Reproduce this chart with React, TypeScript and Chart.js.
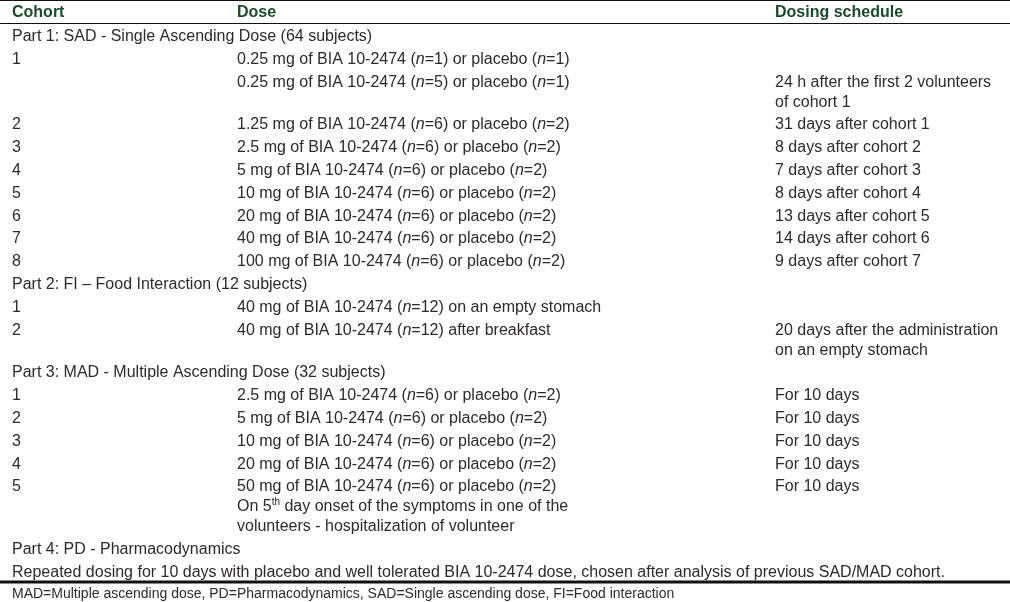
import React, { useEffect, useRef } from "react";
import { Chart, registerables } from "chart.js";

Chart.register(...registerables);

// ---- Table content (data) ----
const headers = ["Cohort", "Dose", "Dosing schedule"];

const cohortCol = [
  "Part 1: SAD - Single Ascending Dose (64 subjects)",
  "1",
  "",
  "2",
  "3",
  "4",
  "5",
  "6",
  "7",
  "8",
  "Part 2: FI \u2013 Food Interaction (12 subjects)",
  "1",
  "2",
  "Part 3: MAD - Multiple Ascending Dose (32 subjects)",
  "1",
  "2",
  "3",
  "4",
  "5",
  "Part 4: PD - Pharmacodynamics",
  "Repeated dosing for 10 days with placebo and well tolerated BIA 10-2474 dose, chosen after analysis of previous SAD/MAD cohort.",
];

const doseCol = [
  "",
  "0.25 mg of BIA 10-2474 (_n_=1) or placebo (_n_=1)",
  "0.25 mg of BIA 10-2474 (_n_=5) or placebo (_n_=1)",
  "1.25 mg of BIA 10-2474 (_n_=6) or placebo (_n_=2)",
  "2.5 mg of BIA 10-2474 (_n_=6) or placebo (_n_=2)",
  "5 mg of BIA 10-2474 (_n_=6) or placebo (_n_=2)",
  "10 mg of BIA 10-2474 (_n_=6) or placebo (_n_=2)",
  "20 mg of BIA 10-2474 (_n_=6) or placebo (_n_=2)",
  "40 mg of BIA 10-2474 (_n_=6) or placebo (_n_=2)",
  "100 mg of BIA 10-2474 (_n_=6) or placebo (_n_=2)",
  "",
  "40 mg of BIA 10-2474 (_n_=12) on an empty stomach",
  "40 mg of BIA 10-2474 (_n_=12) after breakfast",
  "",
  "2.5 mg of BIA 10-2474 (_n_=6) or placebo (_n_=2)",
  "5 mg of BIA 10-2474 (_n_=6) or placebo (_n_=2)",
  "10 mg of BIA 10-2474 (_n_=6) or placebo (_n_=2)",
  "20 mg of BIA 10-2474 (_n_=6) or placebo (_n_=2)",
  "50 mg of BIA 10-2474 (_n_=6) or placebo (_n_=2)\nOn 5^th^ day onset of the symptoms in one of the\nvolunteers - hospitalization of volunteer",
  "",
  "",
];

const scheduleCol = [
  "",
  "",
  "24 h after the first 2 volunteers\nof cohort 1",
  "31 days after cohort 1",
  "8 days after cohort 2",
  "7 days after cohort 3",
  "8 days after cohort 4",
  "13 days after cohort 5",
  "14 days after cohort 6",
  "9 days after cohort 7",
  "",
  "",
  "20 days after the administration\non an empty stomach",
  "",
  "For 10 days",
  "For 10 days",
  "For 10 days",
  "For 10 days",
  "For 10 days",
  "",
  "",
];

const footnote =
  "MAD=Multiple ascending dose, PD=Pharmacodynamics, SAD=Single ascending dose, FI=Food interaction";

// ---- Layout / style constants ----
const W = 1010;
const H = 602;
const COL_X = [12, 237, 775];
const HEADER_Y = 13;
const ROW_START = 36.5;
const ROW_PITCH = 22.8;
const LINE_GAP = 20;
const RULE_TOP = 0.5;
const RULE_HEAD = 23.5;
const RULE_BOTTOM = 582;
const FOOT_Y = 594.5;
const FONT = '"Liberation Sans", Arial, Helvetica, sans-serif';
const BODY_SIZE = 16;
const FOOT_SIZE = 14;
const TEXT_COLOR = "#2e2a2b";
const HEADER_COLOR = "#1b4a2b";

type Pt = { x: number; y: number; text: string };

function buildCellPoints(): Pt[][] {
  const cols = [cohortCol, doseCol, scheduleCol];
  const out: Pt[][] = [[], [], []];
  let extra = 0;
  for (let r = 0; r < cohortCol.length; r++) {
    const y0 = ROW_START + r * ROW_PITCH + extra * LINE_GAP;
    let maxLines = 1;
    cols.forEach((col, c) => {
      const lines = col[r] ? col[r].split("\n") : [];
      lines.forEach((ln, j) => out[c].push({ x: COL_X[c], y: y0 + j * LINE_GAP, text: ln }));
      maxLines = Math.max(maxLines, lines.length);
    });
    extra += maxLines - 1;
  }
  return out;
}

function drawRich(ctx: CanvasRenderingContext2D, text: string, x: number, y: number, size: number, weight: string) {
  const parts = text.split(/(_[^_]+_|\^[^^]+\^)/).filter((p) => p.length > 0);
  let cx = x;
  for (const p of parts) {
    let t = p;
    let style = "";
    let sz = size;
    let dy = 0;
    if (p.startsWith("_") && p.endsWith("_")) {
      t = p.slice(1, -1);
      style = "italic ";
    } else if (p.startsWith("^") && p.endsWith("^")) {
      t = p.slice(1, -1);
      sz = Math.round(size * 0.6);
      dy = -size * 0.3;
    }
    ctx.font = `${style}${weight} ${sz}px ${FONT}`;
    ctx.fillText(t, cx, y + dy);
    cx += ctx.measureText(t).width;
  }
}

const textPlugin = {
  id: "cellText",
  afterDatasetsDraw(chart: any) {
    const ctx = chart.ctx as CanvasRenderingContext2D;
    ctx.save();
    ctx.textBaseline = "middle";
    ctx.textAlign = "left";
    chart.data.datasets.forEach((ds: any, i: number) => {
      if (!ds.textStyle) return;
      const meta = chart.getDatasetMeta(i);
      meta.data.forEach((el: any, k: number) => {
        const raw = ds.data[k];
        ctx.fillStyle = ds.textStyle.color;
        drawRich(ctx, raw.text, el.x, el.y, ds.textStyle.size, ds.textStyle.weight);
      });
    });
    ctx.restore();
  },
};

export default function App() {
  const ref = useRef<HTMLCanvasElement>(null);
  useEffect(() => {
    document.body.style.margin = "0";
    document.body.style.background = "#ffffff";
    const cells = buildCellPoints();
    const rule = (y: number, w: number) => ({
      type: "line" as const,
      data: [
        { x: 0, y },
        { x: W, y },
      ],
      borderColor: "#111111",
      borderWidth: w,
      pointRadius: 0,
      fill: false,
    });
    const textDs = (data: Pt[], color: string, size: number, weight: string) => ({
      type: "scatter" as const,
      data,
      pointRadius: 0,
      pointHoverRadius: 0,
      textStyle: { color, size, weight },
    });
    const chart = new Chart(ref.current!, {
      type: "scatter",
      data: {
        datasets: [
          rule(RULE_TOP, 1.2),
          rule(RULE_HEAD, 1.2),
          rule(RULE_BOTTOM, 3),
          textDs(
            headers.map((h, i) => ({ x: COL_X[i], y: HEADER_Y, text: h })),
            HEADER_COLOR,
            BODY_SIZE,
            "bold"
          ),
          textDs(cells[0], TEXT_COLOR, BODY_SIZE, "normal"),
          textDs(cells[1], TEXT_COLOR, BODY_SIZE, "normal"),
          textDs(cells[2], TEXT_COLOR, BODY_SIZE, "normal"),
          textDs([{ x: COL_X[0], y: FOOT_Y, text: footnote }], TEXT_COLOR, FOOT_SIZE, "normal"),
        ] as any,
      },
      options: {
        animation: false,
        responsive: false,
        devicePixelRatio: 1,
        layout: { padding: 0 },
        plugins: { legend: { display: false }, tooltip: { enabled: false } },
        events: [],
        scales: {
          x: { type: "linear", min: 0, max: W, display: false },
          y: { type: "linear", min: 0, max: H, reverse: true, display: false },
        },
      },
      plugins: [textPlugin],
    });
    return () => chart.destroy();
  }, []);
  return <canvas ref={ref} width={W} height={H} style={{ display: "block" }} />;
}
